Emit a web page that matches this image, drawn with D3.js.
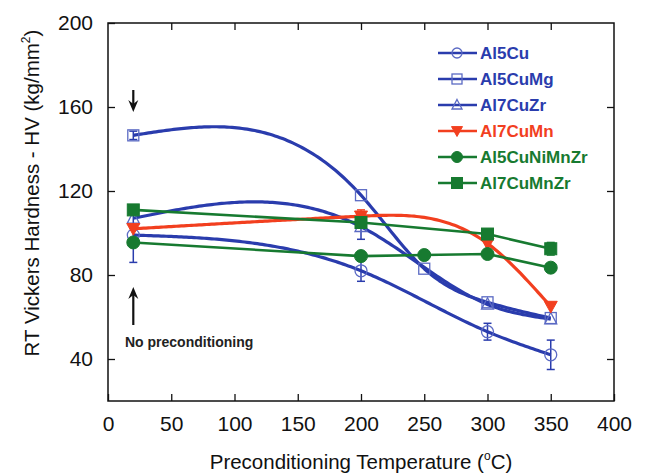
<!DOCTYPE html>
<html>
<head>
<meta charset="utf-8">
<script src="https://cdn.jsdelivr.net/npm/d3@7"></script>
<style>
  body { margin: 0; background: #fff; }
  svg { font-family: "Liberation Sans", Arial, sans-serif; }
</style>
</head>
<body>
<svg id="chart" width="648" height="475"></svg>
<script>
// Data: [temperature, hardness, error]
const xTicks = [0, 50, 100, 150, 200, 250, 300, 350, 400];
const yTicks = [40, 80, 120, 160, 200];

const al5Cu       = [[20, 99, 13], [200, 82, 5], [300, 53, 4], [350, 42, 7]];
const al5CuMg     = [[20, 146.5, 2], [200, 118, 0], [250, 83, 0], [300, 67, 0], [350, 59.5, 0]];
const al7CuZr     = [[20, 107, 0], [200, 103, 6], [300, 66, 0], [350, 59, 0]];
const al7CuMn     = [[20, 102, 0], [200, 108, 3], [300, 95, 0], [350, 65, 0]];
const al5CuNiMnZr = [[20, 95.5, 0], [200, 89, 0], [250, 89.5, 0], [300, 90, 0], [350, 83.5, 0]];
const al7CuMnZr   = [[20, 111, 0], [200, 105, 0], [300, 99.5, 0], [350, 92.5, 3]];

const BLUE = '#2a3cad', BLUE_LT = '#5b6ac4', RED = '#f23f1f', GREEN = '#177a30';

// smooth = natural spline in x through the points, otherwise straight segments
const series = [
  {name: 'Al5Cu',       data: al5Cu,       color: BLUE,  mcolor: BLUE_LT, marker: 'circle',   fill: false, smooth: true},
  {name: 'Al5CuMg',     data: al5CuMg,     color: BLUE,  mcolor: BLUE_LT, marker: 'square',   fill: false, smooth: true},
  {name: 'Al7CuZr',     data: al7CuZr,     color: BLUE,  mcolor: BLUE_LT, marker: 'triangle', fill: false, smooth: true},
  {name: 'Al7CuMn',     data: al7CuMn,     color: RED,   mcolor: RED,     marker: 'down',     fill: true,  smooth: true},
  {name: 'Al5CuNiMnZr', data: al5CuNiMnZr, color: GREEN, mcolor: GREEN,   marker: 'circle',   fill: true,  smooth: false},
  {name: 'Al7CuMnZr',   data: al7CuMnZr,   color: GREEN, mcolor: GREEN,   marker: 'square',   fill: true,  smooth: false}
];

const margin = {top: 23, right: 34, bottom: 74, left: 108};
const W = 648, H = 475;
const width = W - margin.left - margin.right;
const height = H - margin.top - margin.bottom;

const svg = d3.select('#chart');
const g = svg.append('g').attr('transform', `translate(${margin.left},${margin.top})`);

const x = d3.scaleLinear().domain([0, 400]).range([0, width]);
const y = d3.scaleLinear().domain([20, 200]).range([height, 0]);

// natural cubic spline through the points, returns a function of x
function spline(pts) {
  const n = pts.length, xs = pts.map(p => p[0]), ys = pts.map(p => p[1]);
  const h = d3.range(n - 1).map(i => xs[i + 1] - xs[i]);
  const M = new Array(n).fill(0);
  if (n > 2) {
    const a = [], b = [], c = [], r = [];
    for (let i = 1; i < n - 1; i++) {
      a.push(h[i - 1]); b.push(2 * (h[i - 1] + h[i])); c.push(h[i]);
      r.push(6 * ((ys[i + 1] - ys[i]) / h[i] - (ys[i] - ys[i - 1]) / h[i - 1]));
    }
    const m = b.length;
    for (let i = 1; i < m; i++) {
      const w = a[i] / b[i - 1];
      b[i] -= w * c[i - 1]; r[i] -= w * r[i - 1];
    }
    const sol = new Array(m);
    sol[m - 1] = r[m - 1] / b[m - 1];
    for (let i = m - 2; i >= 0; i--) sol[i] = (r[i] - c[i] * sol[i + 1]) / b[i];
    for (let i = 0; i < m; i++) M[i + 1] = sol[i];
  }
  return v => {
    let i = Math.min(n - 2, Math.max(0, d3.bisectRight(xs, v) - 1));
    const t0 = xs[i + 1] - v, t1 = v - xs[i], hi = h[i];
    return M[i] * t0 ** 3 / (6 * hi) + M[i + 1] * t1 ** 3 / (6 * hi)
      + (ys[i] / hi - M[i] * hi / 6) * t0 + (ys[i + 1] / hi - M[i + 1] * hi / 6) * t1;
  };
}

// frame
g.append('rect').attr('width', width).attr('height', height)
  .attr('fill', 'none').attr('stroke', '#111').attr('stroke-width', 1.5);

// axes with inward ticks
const tl = 7;
g.append('g').attr('transform', `translate(0,${height})`)
  .call(d3.axisBottom(x).tickValues(xTicks).tickSize(-tl).tickPadding(tl + 8))
  .call(a => a.select('.domain').remove());
g.append('g')
  .call(d3.axisTop(x).tickValues(xTicks.slice(1, -1)).tickSize(-tl).tickFormat(''))
  .call(a => a.select('.domain').remove());
g.append('g')
  .call(d3.axisLeft(y).tickValues(yTicks).tickSize(-tl).tickPadding(tl + 8))
  .call(a => a.select('.domain').remove());
g.append('g').attr('transform', `translate(${width},0)`)
  .call(d3.axisRight(y).tickValues(yTicks.slice(0, -1)).tickSize(-tl).tickFormat(''))
  .call(a => a.select('.domain').remove());

g.selectAll('.tick line').attr('stroke', '#111').attr('stroke-width', 1.3);
g.selectAll('.tick text').attr('fill', '#111').style('font-size', '21px');

// axis titles
const xt = svg.append('text').attr('x', margin.left + width / 2).attr('y', 469)
  .attr('text-anchor', 'middle').style('font-size', '20.5px').attr('fill', '#111');
xt.append('tspan').text('Preconditioning Temperature (');
xt.append('tspan').text('o').style('font-size', '12px').attr('dy', -9);
xt.append('tspan').text('C)').attr('dy', 9);

const yt = svg.append('text').attr('transform', 'translate(39,193) rotate(-90)')
  .attr('text-anchor', 'middle').style('font-size', '20.5px').attr('fill', '#111');
yt.append('tspan').text('RT Vickers Hardness - HV (kg/mm');
yt.append('tspan').text('2').style('font-size', '12px').attr('dy', -9);
yt.append('tspan').text(')').attr('dy', 9);

// marker drawing
function drawMarker(sel, s, size) {
  const r = size;
  let m;
  if (s.marker === 'circle') {
    m = sel.append('circle').attr('r', r);
  } else if (s.marker === 'square') {
    m = sel.append('rect').attr('x', -r).attr('y', -r).attr('width', 2 * r).attr('height', 2 * r);
  } else if (s.marker === 'triangle') {
    m = sel.append('path').attr('d', `M0,${-r * 1.1}L${r},${r * 0.8}L${-r},${r * 0.8}Z`);
  } else {
    m = sel.append('path').attr('d', `M0,${r * 1.0}L${r},${-r * 0.8}L${-r},${-r * 0.8}Z`);
  }
  m.attr('fill', s.fill ? s.mcolor : 'none')
   .attr('stroke', s.mcolor)
   .attr('stroke-width', s.fill ? 1 : 1.3);
}

// lines
series.forEach(s => {
  let pts;
  if (s.smooth) {
    const fs = spline(s.data);
    const x0 = d3.min(s.data, d => d[0]), x1 = d3.max(s.data, d => d[0]);
    pts = d3.range(x0, x1 + 0.01, 2).map(v => [v, fs(v)]);
  } else {
    pts = s.data;
  }
  const line = d3.line().x(d => x(d[0])).y(d => y(d[1]));
  g.append('path').datum(pts).attr('d', line)
    .attr('fill', 'none').attr('stroke', s.color)
    .attr('stroke-width', s.smooth ? 3.2 : 2.6)
    .attr('stroke-linejoin', 'round');
});

// error bars + markers
series.forEach(s => {
  s.data.filter(d => d[2] > 0).forEach(d => {
    const eb = g.append('g').attr('stroke', s.color).attr('stroke-width', 1.5);
    eb.append('line').attr('x1', x(d[0])).attr('x2', x(d[0]))
      .attr('y1', y(d[1] - d[2])).attr('y2', y(d[1] + d[2]));
    [d[1] - d[2], d[1] + d[2]].forEach(v => {
      eb.append('line').attr('x1', x(d[0]) - 4).attr('x2', x(d[0]) + 4)
        .attr('y1', y(v)).attr('y2', y(v));
    });
  });
  const size = s.fill ? (s.marker === 'square' ? 6 : 6.5) : (s.marker === 'square' ? 5.5 : 6);
  s.data.forEach(d => {
    const mg = g.append('g').attr('transform', `translate(${x(d[0])},${y(d[1])})`);
    drawMarker(mg, s, size);
  });
});

// annotations: arrows and text
const ax = x(20);
const arrow = (yFrom, yTip) => {
  const dir = yTip > yFrom ? 1 : -1;
  g.append('line').attr('x1', ax).attr('x2', ax)
    .attr('y1', yFrom).attr('y2', yTip - dir * 8)
    .attr('stroke', '#111').attr('stroke-width', 2.2);
  g.append('path')
    .attr('d', `M${ax},${yTip}L${ax - 5},${yTip - dir * 12}L${ax},${yTip - dir * 8}L${ax + 5},${yTip - dir * 12}Z`)
    .attr('fill', '#111');
};
arrow(90 - margin.top, 112 - margin.top);
arrow(325 - margin.top, 287 - margin.top);

svg.append('text').attr('x', 125).attr('y', 347)
  .style('font-size', '14px').style('font-weight', 'bold').attr('fill', '#222')
  .text('No preconditioning');

// legend
const legend = svg.append('g').attr('transform', 'translate(438,53)');
series.forEach((s, i) => {
  const row = legend.append('g').attr('transform', `translate(0,${i * 26})`);
  row.append('line').attr('x1', 0).attr('x2', 39).attr('y1', 0).attr('y2', 0)
    .attr('stroke', s.color).attr('stroke-width', 2.6);
  const mg = row.append('g').attr('transform', 'translate(19,0)');
  drawMarker(mg, s, s.fill ? 5.5 : 5);
  row.append('text').attr('x', 42).attr('y', 6)
    .style('font-size', '17px').style('font-weight', 'bold')
    .attr('fill', s.color).text(s.name);
});
</script>
</body>
</html>
